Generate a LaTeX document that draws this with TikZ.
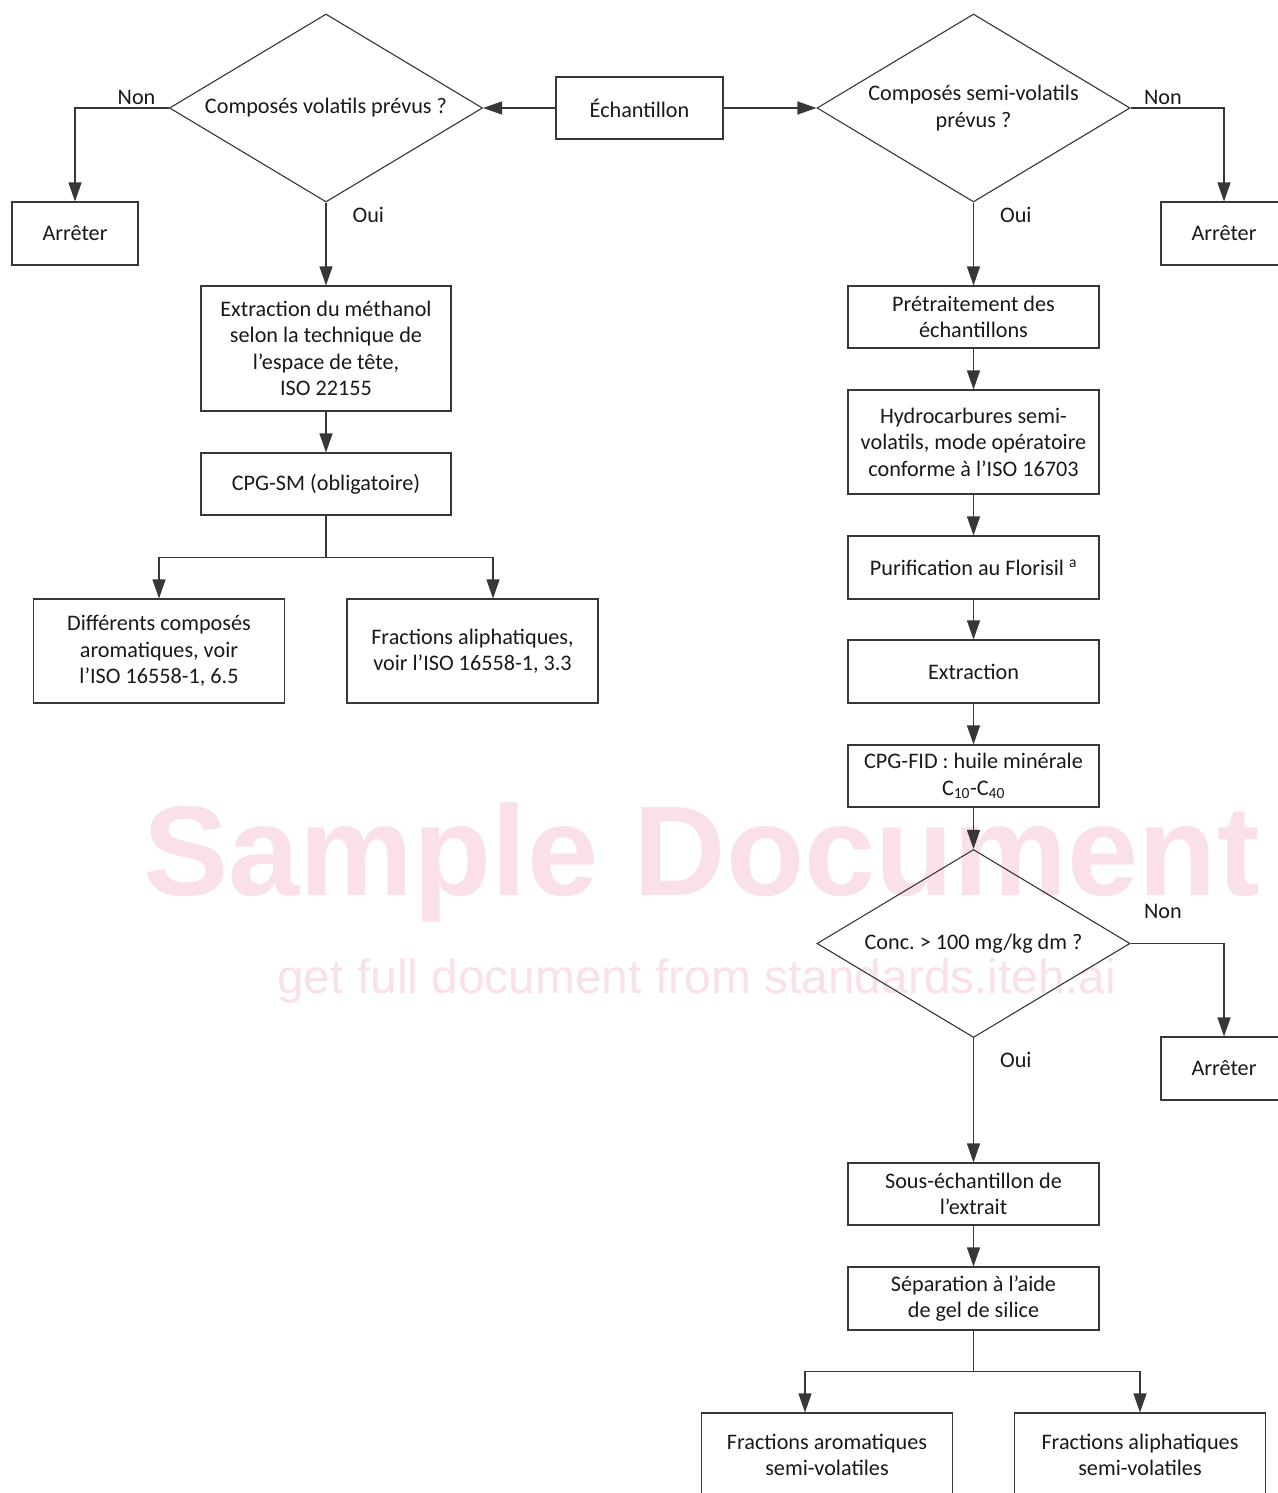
\documentclass[tikz,border=0pt]{standalone}
\usepackage{fontspec}
\setmainfont{Carlito}
\newfontfamily\wmfont{Liberation Sans}
\usetikzlibrary{shapes.geometric,arrows.meta}
\definecolor{wmpink}{RGB}{249,224,233}
\definecolor{linegray}{RGB}{55,55,55}

\begin{document}
\frenchspacing
\begin{tikzpicture}[x=1pt,y=-1pt,
    box/.style={draw=linegray, line width=1.1pt, inner sep=0pt, minimum width=251pt,
      minimum height=62pt, align=center, text=black!90, font=\fontsize{22.2}{26.5}\selectfont},
    decision/.style={diamond, aspect=1.665, draw=linegray, line width=1.1pt, inner sep=0pt, minimum width=313pt,
      minimum height=188pt, align=center, text=black!90, font=\fontsize{22.2}{26.5}\selectfont},
    arrow/.style={draw=linegray, line width=1.1pt, -{Triangle[length=19pt,width=13pt]}},
    link/.style={draw=linegray, line width=1.1pt},
    answer/.style={inner sep=0pt, text=black!90, font=\fontsize{22.2}{26.5}\selectfont}]
    \useasboundingbox (0,0) rectangle (1277,1493);

    % Watermark
    \node[text=wmpink, font=\wmfont\bfseries\fontsize{128}{128}\selectfont, anchor=base west, inner sep=0pt] (wmtitle) at (143,895) {Sample Document};
    \node[text=wmpink, font=\wmfont\fontsize{47.9}{47.9}\selectfont, anchor=base west, inner sep=0pt] (wmline) at (277,993) {get full document from standards.iteh.ai};

    % Top row
    \node[decision] (volat) at (326,108) {Composés volatils prévus ?};
    \node[box, minimum width=167pt] (ech) at (639.5,108) {Échantillon};
    \node[decision] (semivol) at (973.5,108) {Composés semi-volatils\\prévus ?};
    \node[box, minimum width=126pt, minimum height=63pt] (stopA) at (75,233.5) {Arrêter};
    \node[box, minimum width=126pt, minimum height=63pt] (stopB) at (1224,233.5) {Arrêter};

    % Left branch (volatils)
    \node[box, minimum width=250pt, minimum height=125pt] (methanol) at (326,348.5) {Extraction du méthanol\\selon la technique de\\l’espace de tête,\\ISO 22155};
    \node[box, minimum width=250pt] (cpgsm) at (326,484) {CPG-SM (obligatoire)};
    \node[box, minimum height=104pt] (arom) at (159,651) {Différents composés\\aromatiques, voir\\l’ISO 16558-1, 6.5};
    \node[box, minimum height=104pt] (aliph) at (472.5,651) {Fractions aliphatiques,\\voir l’ISO 16558-1, 3.3};

    % Right branch (semi-volatils)
    \node[box] (pretrait) at (973.5,317) {Prétraitement des\\échantillons};
    \node[box, minimum height=104pt] (hydro) at (973.5,442) {Hydrocarbures semi-\\volatils, mode opératoire\\conforme à l’ISO 16703};
    \node[box, minimum height=63pt] (florisil) at (973.5,567.5) {Purification au Florisil \textsuperscript{a}};
    \node[box, minimum height=63pt] (extract) at (973.5,671.5) {Extraction};
    \node[box] (cpgfid) at (973.5,776) {CPG-FID : huile minérale\\C\textsubscript{10}-C\textsubscript{40}};
    \node[decision] (conc) at (973.5,943.5) {Conc. > 100 mg/kg dm ?};
    \node[box, minimum width=126pt, minimum height=63pt] (stopC) at (1224,1068.5) {Arrêter};
    \node[box] (sousech) at (973.5,1194) {Sous-échantillon de\\l’extrait};
    \node[box, minimum height=63pt] (silice) at (973.5,1298.5) {Séparation à l’aide\\de gel de silice};
    \node[box, minimum height=84pt] (fracArom) at (827,1455) {Fractions aromatiques\\semi-volatiles};
    \node[box, minimum height=84pt] (fracAliph) at (1140,1455) {Fractions aliphatiques\\semi-volatiles};

    % Connectors, top
    \draw[arrow] (ech.west) -- (volat.east);
    \draw[arrow] (ech.east) -- (semivol.west);
    \draw[arrow] (volat.west) node[answer, anchor=south east, xshift=-13pt, yshift=3pt] {Non} -| (stopA.north);
    \draw[arrow] (semivol.east) node[answer, anchor=south west, xshift=13pt, yshift=3pt] {Non} -| (stopB.north);

    % Connectors, left
    \draw[arrow] (volat.south) node[answer, anchor=north west, xshift=26pt, yshift=-4pt] {Oui} -- (methanol.north);
    \draw[arrow] (methanol) -- (cpgsm);
    \draw[link] (cpgsm.south) -- ++(0,42) coordinate (splitL);
    \draw[arrow] (splitL) -| (arom.north);
    \draw[arrow] (splitL) -| ([xshift=20.5pt]aliph.north);

    % Connectors, right
    \draw[arrow] (semivol.south) node[answer, anchor=north west, xshift=26pt, yshift=-4pt] {Oui} -- (pretrait);
    \draw[arrow] (pretrait) -- (hydro);
    \draw[arrow] (hydro) -- (florisil);
    \draw[arrow] (florisil) -- (extract);
    \draw[arrow] (extract) -- (cpgfid);
    \draw[arrow] (cpgfid) -- (conc.north);
    \draw[arrow] (conc.east) node[answer, anchor=south west, xshift=13pt, yshift=24pt] {Non} -| (stopC.north);
    \draw[arrow] (conc.south) node[answer, anchor=north west, xshift=26pt, yshift=-14pt] {Oui} -- (sousech);
    \draw[arrow] (sousech) -- (silice);
    \draw[link] (silice.south) -- ++(0,41) coordinate (splitR);
    \draw[arrow] (splitR) -| ([xshift=-22pt]fracArom.north);
    \draw[arrow] (splitR) -| (fracAliph.north);
\end{tikzpicture}
\end{document}
